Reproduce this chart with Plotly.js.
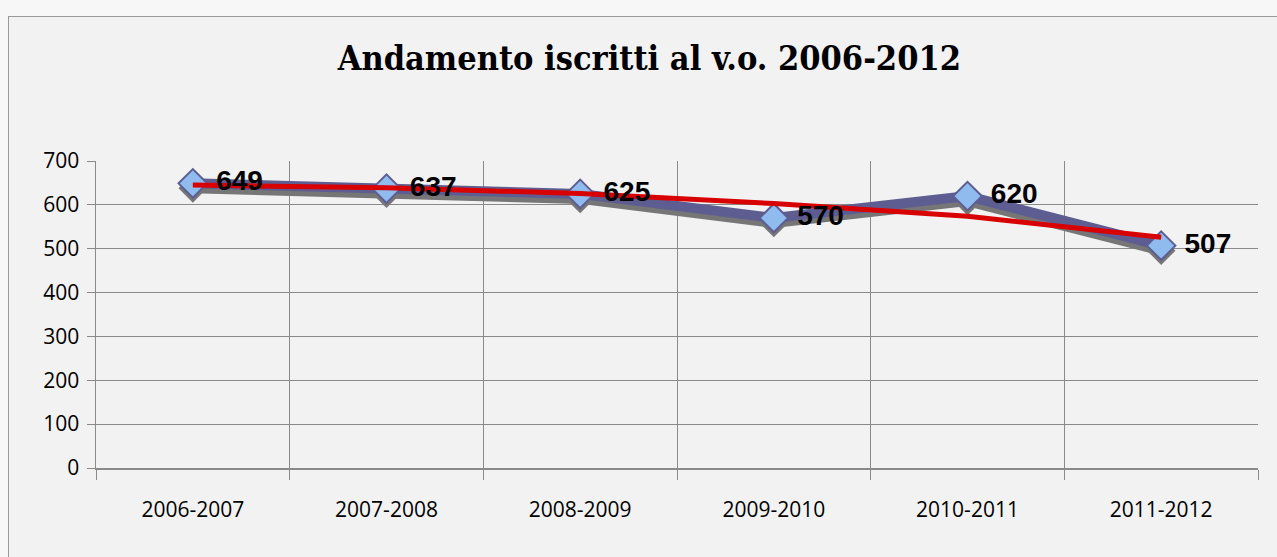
<!DOCTYPE html>
<html>
<head>
<meta charset="utf-8">
<script src="https://cdn.plot.ly/plotly-3.0.1.min.js"></script>
<style>
  html, body { margin: 0; padding: 0; background: #f7f7f7; overflow: hidden; }
  #frame { position: absolute; left: 8px; top: 16px; width: 1268px; height: 540px;
           border: 1px solid #9a9a9a; border-right: none; background: #f2f2f2; }
  #chart { width: 1268px; height: 540px; }
</style>
</head>
<body>
<div id="frame"><div id="chart"></div></div>
<script>
const categories = ["2006-2007", "2007-2008", "2008-2009", "2009-2010", "2010-2011", "2011-2012"];
const iscritti = [649, 637, 625, 570, 620, 507];
const trendValues = [645, 639, 626, 603, 574, 526];
const yTicks = [0, 100, 200, 300, 400, 500, 600, 700];
const titleText = "Andamento iscritti al v.o. 2006-2012";

const lineColor = "#5d5d92";
const shadowColor = "#767676";

const traces = [
  { // anchors the visible base axes (drawn invisibly)
    x: categories, y: iscritti, mode: "lines", opacity: 0,
    line: { width: 0 }, hoverinfo: "skip", showlegend: false
  },
  { // shadow: same data drawn on an axis shifted a few pixels down
    x: categories, y: iscritti, yaxis: "y2", mode: "lines+markers",
    line: { color: shadowColor, width: 10 },
    marker: { symbol: "diamond", size: 22, color: shadowColor, line: { width: 0 } },
    hoverinfo: "skip", showlegend: false, cliponaxis: false
  },
  {
    x: categories, y: iscritti, yaxis: "y3", mode: "lines+markers",
    line: { color: lineColor, width: 10 },
    marker: { symbol: "diamond", size: 22, color: "#8fbbef", line: { color: lineColor, width: 2 } },
    showlegend: false, cliponaxis: false
  },
  {
    x: categories, y: trendValues, yaxis: "y3", mode: "lines",
    line: { color: "#d90000", width: 5 },
    showlegend: false, cliponaxis: false
  },
  {
    x: categories, y: iscritti, yaxis: "y3", mode: "text",
    text: iscritti.map(String), textposition: "middle right",
    textfont: { family: "Liberation Sans, Arial, sans-serif", size: 28, color: "#000" },
    texttemplate: "<b>   %{text}</b>",
    showlegend: false, cliponaxis: false, hoverinfo: "skip"
  }
];

const pxPerUnit = 307 / 700;
const shift = 5 / pxPerUnit;

const layout = {
  width: 1268, height: 540,
  paper_bgcolor: "#f2f2f2", plot_bgcolor: "rgba(0,0,0,0)",
  margin: { l: 87, r: 19, t: 144, b: 89 },
  title: {
    text: "<b>" + titleText + "</b>",
    font: { family: "DejaVu Serif Condensed, DejaVu Serif, serif", size: 34, color: "#000" },
    x: 0.505, xanchor: "center", y: 1 - 41 / 540, yanchor: "middle", yref: "container"
  },
  xaxis: {
    type: "category", tickson: "boundaries", ticks: "outside", ticklen: 10, tickcolor: "#8a8a8a",
    showgrid: true, gridcolor: "#8a8a8a", gridwidth: 1,
    showline: true, linecolor: "#8a8a8a", linewidth: 2,
    tickfont: { family: "Open Sans, Liberation Sans, sans-serif", size: 21, color: "#000" },
    ticklabelstandoff: 22,
    range: [-0.5, 5.5], zeroline: false
  },
  yaxis: {
    range: [0, 700], tickvals: yTicks, ticktext: yTicks.map(String),
    ticks: "outside", ticklen: 8, tickcolor: "#8a8a8a",
    showgrid: true, gridcolor: "#8a8a8a", gridwidth: 1,
    showline: true, linecolor: "#8a8a8a", linewidth: 1.5, zeroline: false,
    tickfont: { family: "Open Sans, Liberation Sans, sans-serif", size: 21, color: "#000" },
    ticklabelstandoff: 3
  },
  yaxis2: {
    overlaying: "y", range: [shift, 700 + shift], visible: false, showgrid: false
  },
  yaxis3: {
    overlaying: "y", range: [0, 700], visible: false, showgrid: false
  }
};

Plotly.newPlot("chart", traces, layout, { displayModeBar: false, staticPlot: true });
</script>
</body>
</html>
